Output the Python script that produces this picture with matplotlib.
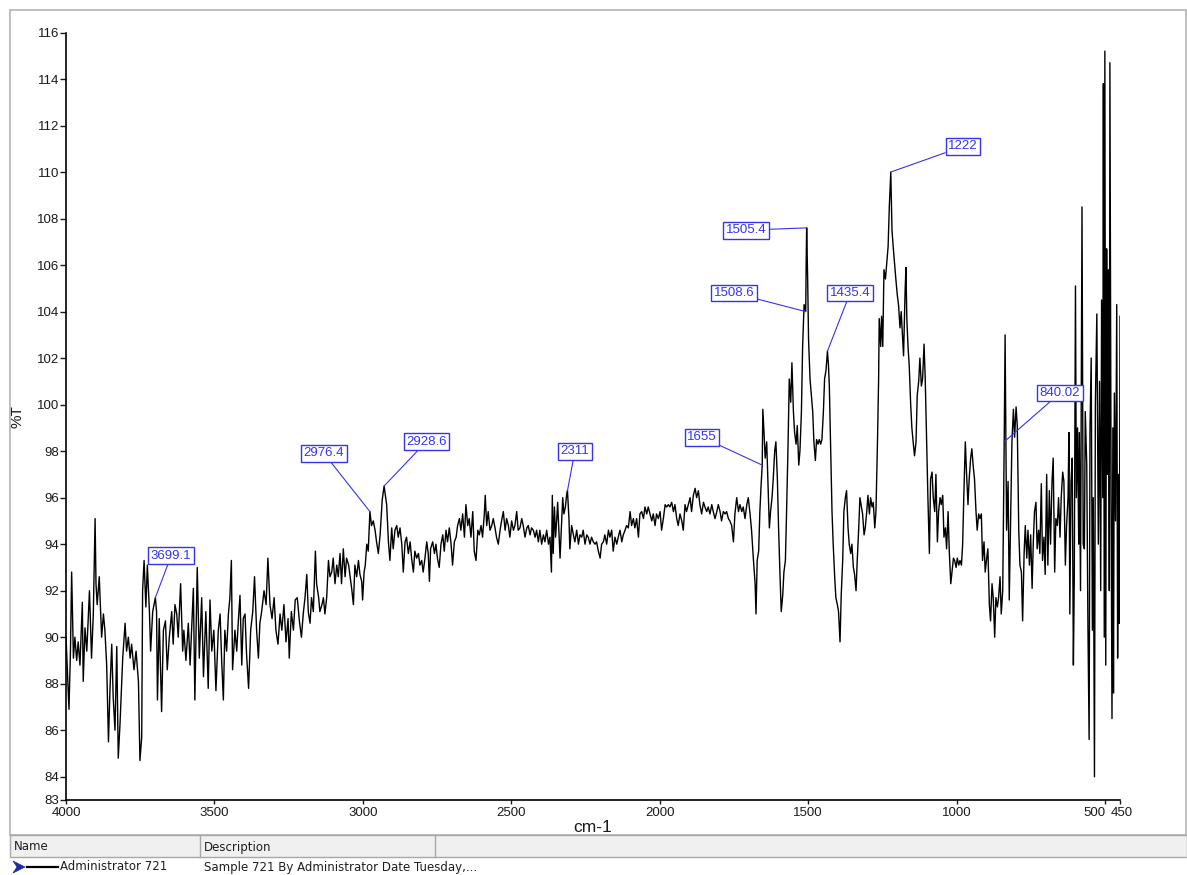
import matplotlib
matplotlib.use("Agg")
import matplotlib.pyplot as plt
import matplotlib.transforms as mtransforms
from matplotlib.patches import Rectangle, Polygon
from matplotlib.lines import Line2D
import numpy as np

plt.rcParams['font.family'] = ['Liberation Sans', 'DejaVu Sans']

# FT-IR scan, sample 721 (wavenumber in cm-1, transmittance in %T)
wavenumber = [
    4000, 3996, 3990, 3985, 3981, 3975, 3970, 3964, 3959, 3953,
    3945, 3942, 3936, 3930, 3921, 3914, 3908, 3902, 3899, 3895,
    3888, 3880, 3874, 3869, 3863, 3857, 3852, 3846, 3841, 3835,
    3829, 3824, 3818, 3809, 3801, 3796, 3790, 3784, 3779, 3771,
    3764, 3756, 3751, 3745, 3742, 3737, 3731, 3726, 3719, 3715,
    3708, 3699.1, 3695, 3692, 3686, 3678, 3672, 3665, 3659, 3652,
    3644, 3639, 3633, 3627, 3622, 3614, 3607, 3603, 3596, 3588,
    3582, 3577, 3571, 3566, 3558, 3551, 3543, 3537, 3529, 3521,
    3515, 3509, 3502, 3495, 3487, 3481, 3476, 3470, 3465, 3459,
    3453, 3448, 3443, 3439, 3431, 3425, 3420, 3414, 3408, 3403,
    3397, 3392, 3385, 3378, 3371, 3365, 3358, 3352, 3347, 3341,
    3333, 3326, 3320, 3313, 3306, 3299, 3293, 3286, 3279, 3273,
    3266, 3259, 3252, 3248, 3241, 3234, 3228, 3221, 3214, 3207,
    3201, 3195, 3189, 3184, 3178, 3173, 3167, 3160, 3156, 3149,
    3145, 3138, 3133, 3128, 3122, 3116, 3111, 3105, 3100, 3094,
    3088, 3083, 3077, 3072, 3066, 3060, 3055, 3048, 3043, 3037,
    3032, 3027, 3021, 3015, 3010, 3004, 3001, 2996, 2992, 2987,
    2982, 2976.4, 2971, 2965, 2959, 2954, 2948, 2942, 2935, 2928.6,
    2920, 2914, 2909, 2903, 2898, 2892, 2886, 2881, 2875, 2869,
    2864, 2858, 2853, 2847, 2841, 2836, 2830, 2825, 2819, 2813,
    2808, 2802, 2797, 2791, 2785, 2780, 2776, 2772, 2765, 2759,
    2754, 2749, 2743, 2737, 2731, 2726, 2720, 2715, 2709, 2703,
    2698, 2692, 2686, 2681, 2675, 2670, 2664, 2658, 2653, 2647,
    2642, 2636, 2630, 2625, 2619, 2613, 2608, 2602, 2597, 2591,
    2588, 2583, 2578, 2572, 2566, 2561, 2555, 2550, 2544, 2538,
    2533, 2527, 2521, 2516, 2510, 2505, 2499, 2493, 2488, 2482,
    2477, 2471, 2465, 2460, 2454, 2448, 2443, 2437, 2432, 2426,
    2420, 2415, 2409, 2404, 2398, 2392, 2387, 2381, 2375, 2370,
    2365, 2362, 2359, 2355, 2351, 2347, 2344, 2340, 2336, 2331,
    2327, 2323, 2318, 2314, 2311, 2306, 2303, 2297, 2291, 2286,
    2280, 2274, 2269, 2263, 2258, 2252, 2246, 2241, 2235, 2230,
    2224, 2218, 2213, 2207, 2201, 2196, 2190, 2185, 2179, 2173,
    2168, 2162, 2157, 2151, 2145, 2140, 2134, 2128, 2123, 2117,
    2112, 2106, 2100, 2095, 2089, 2084, 2078, 2072, 2067, 2061,
    2055, 2050, 2044, 2039, 2033, 2027, 2022, 2016, 2011, 2005,
    1999, 1994, 1988, 1982, 1977, 1971, 1966, 1960, 1954, 1949,
    1943, 1938, 1932, 1926, 1921, 1915, 1910, 1904, 1898, 1893,
    1887, 1881, 1876, 1870, 1865, 1859, 1853, 1848, 1842, 1837,
    1831, 1825, 1820, 1814, 1808, 1803, 1797, 1792, 1786, 1780,
    1775, 1769, 1764, 1758, 1752, 1747, 1741, 1735, 1730, 1724,
    1719, 1713, 1707, 1702, 1696, 1691, 1685, 1679, 1676, 1672,
    1667, 1663, 1659, 1655, 1653, 1649, 1645, 1640, 1636, 1631,
    1627, 1622, 1618, 1613, 1609, 1604, 1600, 1595, 1591, 1586,
    1582, 1577, 1573, 1568, 1564, 1559, 1555, 1550, 1546, 1541,
    1537, 1532, 1528, 1523, 1519, 1514, 1508.6, 1507, 1505.4, 1502,
    1499, 1494, 1490, 1485, 1481, 1476, 1472, 1467, 1463, 1458,
    1454, 1449, 1445, 1440, 1435.4, 1432, 1429, 1425, 1420, 1416,
    1411, 1407, 1402, 1398, 1393, 1389, 1384, 1380, 1375, 1371,
    1366, 1362, 1357, 1353, 1348, 1344, 1339, 1335, 1330, 1326,
    1321, 1317, 1312, 1308, 1303, 1299, 1294, 1290, 1285, 1281,
    1276, 1272, 1267, 1263, 1261, 1256, 1253, 1249, 1245, 1240,
    1236, 1231, 1227, 1222, 1218, 1214, 1209, 1205, 1200, 1196,
    1191, 1187, 1182, 1179, 1174, 1171, 1168, 1164, 1160, 1155,
    1151, 1146, 1142, 1137, 1133, 1128, 1124, 1119, 1115, 1110,
    1106, 1101, 1097, 1092, 1088, 1083, 1079, 1074, 1070, 1065,
    1061, 1056, 1052, 1047, 1043, 1038, 1034, 1029, 1025, 1020,
    1016, 1011, 1007, 1002, 998, 993, 989, 984, 980, 976,
    971, 967, 962, 958, 953, 949, 944, 940, 935, 931,
    926, 922, 917, 913, 908, 904, 899, 895, 890, 886,
    881, 877, 872, 868, 863, 859, 854, 850, 845, 840.02,
    837, 832, 827, 823, 818, 814, 809, 805, 800, 796,
    791, 787, 782, 778, 773, 769, 764, 760, 755, 751,
    746, 742, 738, 733, 729, 724, 720, 715, 711, 706,
    702, 697, 693, 688, 684, 679, 675, 670, 666, 661,
    657, 652, 648, 643, 639, 634, 630, 625, 622, 619,
    615, 611, 607, 604, 600, 597, 593, 589, 587, 583,
    578, 574, 570, 567, 562, 558, 554, 551, 547, 543,
    540, 536, 533, 528, 523, 519, 515, 512, 508, 506,
    503, 501, 498, 495, 492, 489, 486, 484, 480, 477,
    474, 472, 469, 465, 461, 458, 455, 452, 450,
]

transmittance = [
    90.0, 88.8, 86.9, 89.4, 92.8, 89.1, 90.0, 89.0, 89.8, 88.8,
    91.5, 88.1, 90.4, 89.4, 92.0, 89.1, 91.0, 95.1, 92.3, 91.4,
    92.6, 90.0, 91.0, 90.3, 88.8, 85.5, 87.7, 89.7, 87.4, 86.0,
    89.6, 84.8, 86.3, 89.1, 90.6, 89.4, 90.0, 89.1, 89.7, 88.6,
    89.4, 88.1, 84.7, 85.7, 92.0, 93.3, 91.3, 93.1, 91.1, 89.4,
    91.1, 91.7, 91.1, 87.3, 90.8, 86.8, 90.3, 90.7, 88.6, 90.0,
    91.1, 89.7, 91.4, 91.0, 90.0, 92.3, 89.4, 90.3, 89.0, 90.6,
    88.8, 90.3, 92.1, 87.3, 93.0, 89.1, 91.7, 88.3, 91.1, 87.8,
    91.6, 89.4, 90.3, 87.7, 90.3, 91.0, 89.1, 87.3, 90.3, 89.4,
    91.0, 91.7, 93.3, 88.6, 90.3, 89.4, 90.6, 91.8, 88.8, 90.8,
    91.0, 89.3, 87.8, 90.3, 91.1, 92.6, 90.3, 89.1, 90.6, 91.1,
    92.0, 91.4, 93.4, 91.4, 90.8, 91.7, 90.3, 89.7, 91.0, 90.3,
    91.4, 89.8, 90.8, 89.1, 91.1, 90.3, 91.6, 91.7, 90.7, 90.0,
    91.0, 91.7, 92.7, 91.1, 90.6, 91.7, 91.1, 93.7, 92.3, 91.7,
    91.1, 91.4, 91.7, 91.0, 91.7, 93.3, 92.6, 92.8, 93.4, 92.3,
    93.1, 92.6, 93.6, 92.3, 93.8, 92.6, 93.4, 93.1, 92.6, 92.0,
    91.4, 93.1, 92.6, 93.3, 92.7, 92.4, 91.6, 92.8, 93.1, 94.0,
    93.7, 95.4, 94.8, 95.0, 94.6, 94.1, 93.6, 94.4, 95.9, 96.5,
    95.7, 94.1, 93.3, 94.7, 93.8, 94.6, 94.8, 94.3, 94.7, 94.0,
    92.8, 94.1, 94.3, 93.6, 94.1, 93.4, 92.8, 93.7, 93.4, 93.6,
    93.1, 93.3, 92.8, 93.4, 94.1, 93.6, 92.4, 93.8, 94.1, 93.6,
    94.0, 93.4, 93.0, 94.0, 94.4, 93.7, 94.6, 94.1, 94.7, 94.0,
    93.1, 94.1, 94.3, 94.8, 95.1, 94.6, 95.3, 94.3, 95.7, 94.8,
    95.1, 94.3, 95.4, 93.7, 93.3, 94.6, 94.4, 94.8, 94.3, 95.3,
    96.1, 94.8, 95.4, 94.6, 94.8, 95.1, 94.7, 94.3, 94.0, 94.6,
    95.0, 95.4, 94.6, 95.1, 94.8, 94.3, 95.0, 94.6, 94.8, 95.4,
    94.6, 94.7, 95.1, 94.8, 94.3, 94.7, 94.8, 94.4, 94.7, 94.6,
    94.3, 94.6, 94.1, 94.6, 94.0, 94.4, 94.1, 94.6, 94.0, 94.3,
    92.8, 96.1, 93.6, 95.6, 94.3, 95.1, 95.8, 94.6, 93.4, 94.8,
    96.0, 95.3, 95.6, 96.1, 96.3, 95.1, 93.8, 94.8, 94.4, 94.1,
    94.6, 94.0, 94.4, 94.3, 94.6, 94.0, 94.4, 94.3, 94.0, 94.3,
    94.1, 94.0, 94.1, 93.7, 93.4, 94.0, 94.1, 94.4, 94.0, 94.6,
    94.3, 94.6, 93.7, 94.3, 94.0, 94.3, 94.6, 94.1, 94.4, 94.6,
    94.8, 94.7, 95.4, 94.8, 95.1, 94.7, 95.1, 94.3, 95.3, 95.4,
    95.1, 95.6, 95.3, 95.6, 95.3, 95.0, 95.3, 94.8, 95.3, 95.1,
    95.4, 94.6, 95.1, 95.7, 95.6, 95.7, 95.6, 95.8, 95.4, 95.7,
    95.1, 94.8, 95.3, 95.0, 94.6, 95.7, 95.4, 95.7, 96.0, 95.4,
    96.1, 96.4, 96.0, 96.3, 95.7, 95.3, 95.8, 95.6, 95.4, 95.6,
    95.3, 95.7, 95.4, 95.1, 95.4, 95.7, 95.4, 95.0, 95.4, 95.3,
    95.4, 95.1, 95.0, 94.8, 94.1, 95.3, 96.0, 95.4, 95.7, 95.4,
    95.6, 95.1, 95.7, 96.0, 95.3, 94.6, 93.4, 92.3, 91.0, 93.3,
    93.7, 95.4, 96.5, 97.4, 99.8, 98.8, 97.7, 98.4, 96.8, 94.7,
    95.4, 96.0, 96.8, 98.0, 98.4, 96.8, 94.7, 92.6, 91.1, 91.8,
    92.8, 93.3, 95.4, 98.3, 101.1, 100.1, 101.8, 99.7, 98.8, 98.3,
    99.1, 97.4, 98.0, 99.7, 102.5, 104.3, 104.0, 106.1, 107.6, 105.4,
    102.8, 101.1, 100.5, 99.7, 98.4, 97.6, 98.5, 98.3, 98.5, 98.3,
    98.5, 99.7, 101.1, 101.5, 102.3, 101.7, 100.8, 98.3, 95.4, 94.0,
    92.6, 91.7, 91.4, 91.1, 89.8, 91.8, 93.3, 95.4, 96.0, 96.3,
    94.7, 94.0, 93.6, 94.0, 93.0, 92.7, 92.0, 93.3, 94.7, 96.0,
    95.6, 95.3, 94.4, 94.7, 95.4, 96.1, 95.3, 96.0, 95.6, 95.8,
    94.7, 95.4, 98.3, 101.1, 103.7, 102.5, 103.8, 102.5, 105.8, 105.4,
    106.0, 106.8, 108.5, 110.0, 107.5, 106.8, 106.0, 105.4, 104.7, 104.3,
    103.3, 104.0, 102.8, 102.1, 104.8, 105.9, 103.7, 102.5, 101.7, 100.0,
    99.0, 98.3, 97.8, 98.4, 100.4, 101.0, 102.0, 100.8, 101.1, 102.6,
    101.1, 98.3, 96.0, 93.6, 96.8, 97.1, 96.0, 95.4, 97.0, 94.1,
    95.4, 96.0, 95.7, 96.1, 94.3, 94.7, 93.8, 95.4, 93.7, 92.3,
    92.8, 93.4, 93.3, 93.0, 93.4, 93.1, 93.3, 93.1, 94.0, 96.1,
    98.4, 97.1, 95.7, 96.8, 97.7, 98.1, 97.3, 96.8, 95.4, 94.6,
    95.3, 95.1, 95.3, 93.3, 94.1, 92.8, 93.4, 93.8, 91.4, 90.7,
    92.3, 91.7, 90.0, 91.7, 91.3, 91.7, 92.6, 91.0, 92.0, 98.4,
    103.0, 94.6, 96.7, 91.6, 95.3, 98.4, 99.8, 98.6, 99.9, 99.1,
    94.6, 93.1, 92.8, 90.7, 93.6, 94.8, 93.4, 94.6, 93.1, 94.4,
    92.1, 94.1, 95.4, 95.8, 93.8, 94.6, 93.6, 96.6, 93.3, 94.3,
    92.7, 97.0, 93.1, 96.3, 94.0, 96.7, 97.7, 92.8, 95.1, 94.8,
    96.0, 94.3, 96.0, 97.1, 96.7, 93.1, 94.8, 96.0, 98.8, 91.0,
    96.7, 97.7, 88.8, 92.5, 105.1, 96.0, 99.0, 94.0, 98.8, 92.0,
    108.5, 94.0, 93.8, 99.7, 97.4, 90.5, 85.6, 99.0, 102.0, 90.3,
    96.0, 84.0, 100.0, 103.9, 94.0, 101.0, 92.0, 104.5, 96.0, 113.8,
    90.0, 115.2, 88.8, 106.7, 97.0, 105.8, 92.0, 114.7, 96.0, 86.5,
    99.0, 87.6, 100.5, 95.0, 104.3, 89.1, 97.0, 90.6, 103.8,
]

# labelled bands and where their tags sit (cm-1, %T)
peak_wn = [3699.1, 2976.4, 2928.6, 2311, 1655, 1508.6, 1505.4, 1435.4, 1222, 840.02]
peak_text = ['3699.1', '2976.4', '2928.6', '2311', '1655', '1508.6', '1505.4', '1435.4', '1222', '840.02']
tag_wn = [3646, 3131, 2787, 2286, 1858, 1750, 1710, 1359, 979, 652]
tag_t = [93.5, 97.9, 98.4, 98.0, 98.6, 104.8, 107.5, 104.8, 111.1, 100.5]

yticks = [83, 84, 86, 88, 90, 92, 94, 96, 98, 100, 102, 104, 106, 108, 110, 112, 114, 116]
xticks = [4000, 3500, 3000, 2500, 2000, 1500, 1000, 500, 450]

W, H = 1187, 875
fig = plt.figure(figsize=(W / 100, H / 100), dpi=100)
fig.patch.set_facecolor('white')


def fx(px):
    return px / W


def fy(py):
    return 1 - py / H


# window frame and the list of traces below the plot
fig.add_artist(Rectangle((fx(10), fy(835)), fx(1176), (835 - 10) / H, transform=fig.transFigure,
                         fill=False, ec='#b4b4b4', lw=1.2))
fig.add_artist(Rectangle((fx(10), fy(857)), fx(1177), 22 / H, transform=fig.transFigure,
                         fc='#f0f0f0', ec='#a8a8a8', lw=1.0))
for sx in [200, 435]:
    fig.add_artist(Line2D([fx(sx), fx(sx)], [fy(857), fy(835)], transform=fig.transFigure,
                          color='#a8a8a8', lw=1.0))
table_font = dict(fontsize=8.5, va='center', ha='left', family=['DejaVu Sans'], color='#1e1e1e')
fig.text(fx(14), fy(847), 'Name', **table_font)
fig.text(fx(204), fy(847), 'Description', **table_font)
fig.add_artist(Polygon([[fx(13), fy(861)], [fx(25), fy(867)], [fx(13), fy(873)], [fx(17), fy(867)]],
                       closed=True, transform=fig.transFigure, fc='#1c2f9e', ec='#1c2f9e', lw=0.5))
fig.add_artist(Line2D([fx(27), fx(58)], [fy(867), fy(867)], transform=fig.transFigure, color='black', lw=1.6))
fig.text(fx(60), fy(867), 'Administrator 721', **table_font)
fig.text(fx(204), fy(867), 'Sample 721 By Administrator Date Tuesday,...', **table_font)

# spectrum
ax = fig.add_axes([fx(66), fy(800), (1120 - 66) / W, (800 - 32.5) / H])
ax.plot(wavenumber, transmittance, color='black', lw=1.0)
ax.set_xlim(4000, 450)
ax.set_ylim(83, 116)
ax.spines['top'].set_visible(False)
ax.spines['right'].set_visible(False)
ax.spines['left'].set_linewidth(1.2)
ax.spines['bottom'].set_linewidth(1.2)
ax.set_yticks(yticks)
ax.set_yticklabels([str(v) for v in yticks])
ax.set_xticks(xticks)
ax.set_xticklabels([str(v) for v in xticks])
ax.tick_params(axis='both', colors='#1a1a1a')
ax.tick_params(axis='y', direction='out', length=4, width=1, labelsize=9.5, pad=1)
ax.tick_params(axis='x', direction='out', length=3, width=1, labelsize=9.5, pad=2)

# keep "500" and "450" from running into each other
xl = ax.get_xticklabels()
xl[-2].set_transform(xl[-2].get_transform() + mtransforms.ScaledTranslation(-11 / 100, 0, fig.dpi_scale_trans))
xl[-1].set_transform(xl[-1].get_transform() + mtransforms.ScaledTranslation(2 / 100, 0, fig.dpi_scale_trans))

ax.set_ylabel('%T', fontsize=11, color='#1a1a1a')
ax.yaxis.set_label_coords(-0.039, 0.5)
ax.set_xlabel('cm-1', fontsize=12.5, labelpad=1, color='#1a1a1a')

# band tags
blue = '#3434ee'
wn_arr = np.array(wavenumber)[::-1]
t_arr = np.array(transmittance)[::-1]
peak_t = np.interp(peak_wn, wn_arr, t_arr)
for w, t, txt, tw, tt in zip(peak_wn, peak_t, peak_text, tag_wn, tag_t):
    ax.annotate(txt, xy=(w, t), xytext=(tw, tt), fontsize=9.5, color=blue, ha='center', va='center',
                bbox=dict(boxstyle='square,pad=0.18', fc='white', ec=blue, lw=1.0),
                arrowprops=dict(arrowstyle='-', color=blue, lw=0.8, shrinkA=0, shrinkB=0))

fig.savefig('out.png', dpi=100)
